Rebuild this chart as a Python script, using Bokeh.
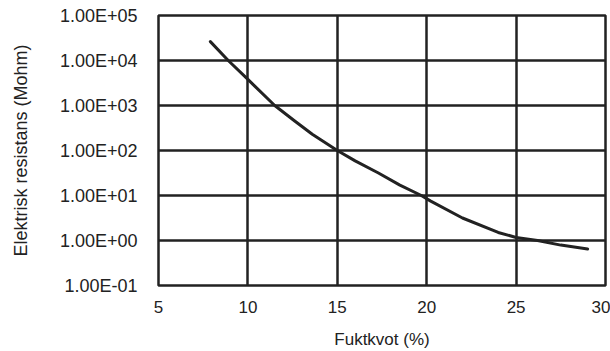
from bokeh.plotting import figure
from bokeh.models import FixedTicker, Range1d
from bokeh.embed import file_html
from bokeh.resources import INLINE

# Data
moisture = [7.9, 8.9, 10.0, 11.5, 12.6, 13.6, 15.0, 16.0, 17.3, 18.5, 19.7,
            20.2, 22.0, 24.0, 25.0, 26.2, 27.5, 29.0]
resistance = [26300, 10000, 3800, 1000, 457, 229, 100, 58.9, 31.6, 17.0, 10.0,
              7.6, 3.16, 1.51, 1.17, 1.0, 0.79, 0.65]

x_ticks = [5, 10, 15, 20, 25, 30]
y_ticks = [0.1, 1, 10, 100, 1000, 10000, 100000]
y_tick_labels = ["1.00E-01", "1.00E+00", "1.00E+01", "1.00E+02",
                 "1.00E+03", "1.00E+04", "1.00E+05"]

x_label = "Fuktkvot (%)"
y_label = "Elektrisk resistans (Mohm)"

INK = "#222222"
FONT = "Liberation Sans"

p = figure(width=610, height=351, y_axis_type="log",
           x_range=Range1d(5, 30), y_range=Range1d(0.1, 100000),
           output_backend="svg", toolbar_location=None,
           min_border_left=158, min_border_right=5,
           min_border_top=15, min_border_bottom=64)

p.background_fill_color = "white"
p.border_fill_color = "white"
p.outline_line_color = INK
p.outline_line_width = 2.5

p.xaxis.ticker = FixedTicker(ticks=x_ticks)
p.yaxis.ticker = FixedTicker(ticks=y_ticks)
p.yaxis.major_label_overrides = {t: lab for t, lab in zip(y_ticks, y_tick_labels)}

for ax in (p.xaxis, p.yaxis):
    ax.axis_line_color = None
    ax.major_tick_line_color = None
    ax.minor_tick_line_color = None
    ax.major_tick_in = 0
    ax.major_tick_out = 0
    ax.minor_tick_in = 0
    ax.minor_tick_out = 0
    ax.major_label_text_font = FONT
    ax.major_label_text_color = INK
    ax.axis_label_text_font = FONT
    ax.axis_label_text_font_style = "normal"
    ax.axis_label_text_color = INK

p.xaxis.major_label_text_font_size = "17px"
p.yaxis.major_label_text_font_size = "18px"
p.xaxis.axis_label = x_label
p.yaxis.axis_label = y_label
p.xaxis.axis_label_text_font_size = "17px"
p.yaxis.axis_label_text_font_size = "18px"
p.xaxis.major_label_standoff = 15
p.xaxis.axis_label_standoff = 14
p.yaxis.major_label_standoff = 21
p.yaxis.axis_label_standoff = 26

p.xgrid.grid_line_color = INK
p.xgrid.grid_line_width = 2.5
p.ygrid.grid_line_color = INK
p.ygrid.grid_line_width = 2.5
p.xgrid.ticker = FixedTicker(ticks=x_ticks)
p.ygrid.ticker = FixedTicker(ticks=y_ticks)

p.line(moisture, resistance, line_color=INK, line_width=3,
       line_join="round", line_cap="round")

open("out.html", "w").write(file_html(p, INLINE))
